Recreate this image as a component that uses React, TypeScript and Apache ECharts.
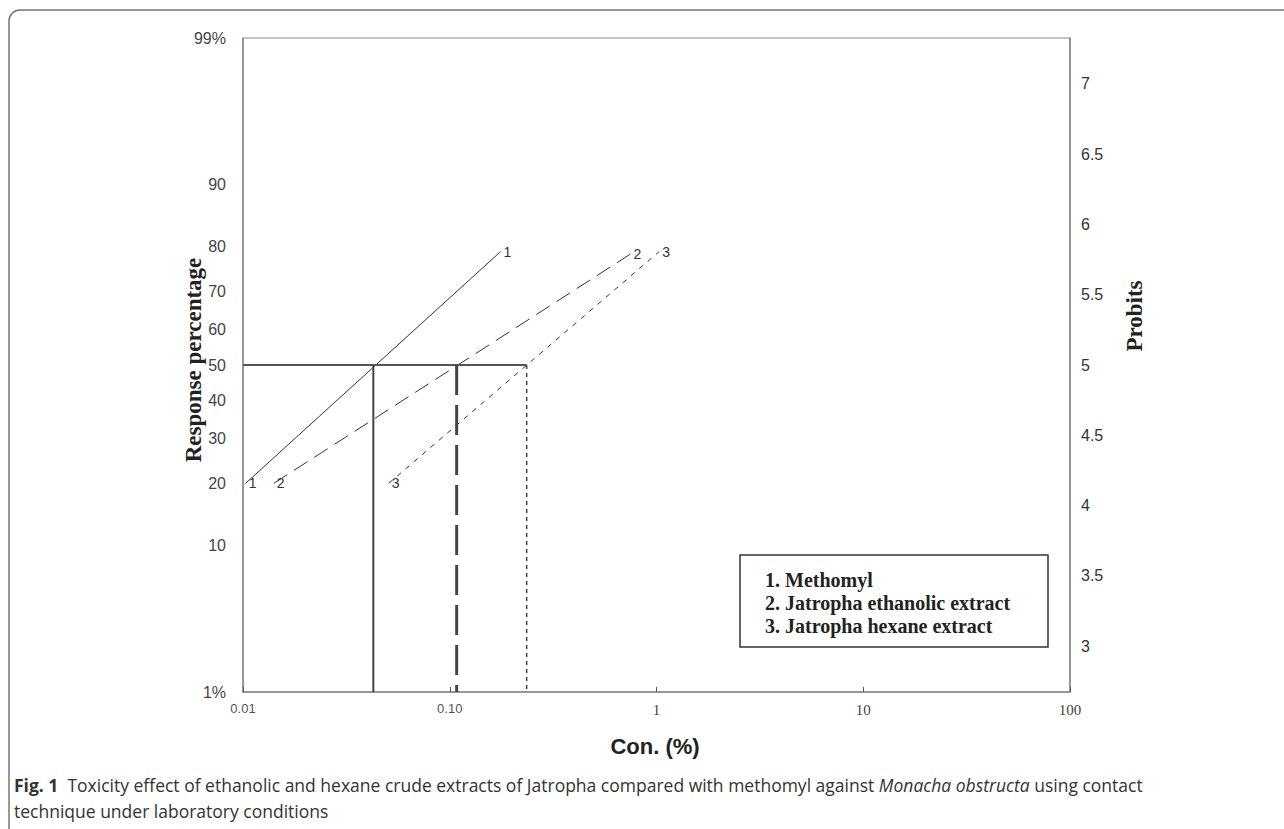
import React, { useEffect, useRef } from "react";
import * as echarts from "echarts";

// ---- data ----
const xTickLabels = ["0.01", "0.10", "1", "10", "100"];
const leftPercentTicks = [1, 10, 20, 30, 40, 50, 60, 70, 80, 90, 99];
const rightProbitTicks = [3, 3.5, 4, 4.5, 5, 5.5, 6, 6.5, 7];

const seriesNames = ["1", "2", "3"];
const legendLines = ["1. Methomyl", "2. Jatropha ethanolic extract", "3. Jatropha hexane extract"];
// [concentration %, response %]
const methomyl = [[0.0103, 20], [0.176, 79]];
const ethanolic = [[0.0141, 20], [0.748, 78.5]];
const hexane = [[0.0507, 20], [1.03, 79]];
// LC50 values (concentration at 50% response)
const lc50 = [0.0427, 0.108, 0.2355];

// inverse standard normal (Acklam)
function invNorm(p: number): number {
  const a = [-39.69683028665376, 220.9460984245205, -275.9285104469687, 138.357751867269, -30.66479806614716, 2.506628277459239];
  const b = [-54.47609879822406, 161.5858368580409, -155.6989798598866, 66.80131188771972, -13.28068155288572];
  const c = [-0.007784894002430293, -0.3223964580411365, -2.400758277161838, -2.549732539343734, 4.374664141464968, 2.938163982698783];
  const d = [0.007784695709041462, 0.3224671290700398, 2.445134137142996, 3.754408661907416];
  const pl = 0.02425;
  let q: number, r: number;
  if (p < pl) {
    q = Math.sqrt(-2 * Math.log(p));
    return (((((c[0] * q + c[1]) * q + c[2]) * q + c[3]) * q + c[4]) * q + c[5]) / ((((d[0] * q + d[1]) * q + d[2]) * q + d[3]) * q + 1);
  } else if (p <= 1 - pl) {
    q = p - 0.5;
    r = q * q;
    return (((((a[0] * r + a[1]) * r + a[2]) * r + a[3]) * r + a[4]) * r + a[5]) * q / (((((b[0] * r + b[1]) * r + b[2]) * r + b[3]) * r + b[4]) * r + 1);
  }
  q = Math.sqrt(-2 * Math.log(1 - p));
  return -(((((c[0] * q + c[1]) * q + c[2]) * q + c[3]) * q + c[4]) * q + c[5]) / ((((d[0] * q + d[1]) * q + d[2]) * q + d[3]) * q + 1);
}
const probit = (pct: number) => 5 + invNorm(pct / 100);

export default function App() {
  const ref = useRef<HTMLDivElement>(null);
  useEffect(() => {
    if (!ref.current) return;
    const chart = echarts.init(ref.current, null, { renderer: "svg" });
    const yMin = probit(1);
    const yMax = probit(99);
    const leftProbitVals = leftPercentTicks.map(probit);
    const pctLabel = (v: number) => {
      let best = 0;
      let bd = Infinity;
      leftPercentTicks.forEach((p, i) => {
        const dd = Math.abs(leftProbitVals[i] - v);
        if (dd < bd) { bd = dd; best = p; }
      });
      if (best === 1 || best === 99) return best + "%";
      return String(best);
    };
    const xLabel = (v: number) => {
      const i = Math.round(Math.log10(v)) + 2;
      const t = xTickLabels[i] ?? String(v);
      return i < 2 ? "{s|" + t + "}" : "{t|" + t + "}";
    };
    const toPts = (arr: number[][], name: string) =>
      arr.map((d) => ({
        value: [d[0], probit(d[1])],
        label: { show: true, position: "right", distance: 3, formatter: name },
      }));
    const lineLabel = {
      color: "#333",
      fontFamily: "Liberation Sans",
      fontSize: 14,
    };
    const mainSeries = [methomyl, ethanolic, hexane].map((arr, i) => ({
      type: "line",
      name: seriesNames[i],
      yAxisIndex: 0,
      data: toPts(arr, seriesNames[i]),
      symbol: "circle",
      symbolSize: 0,
      showSymbol: true,
      label: lineLabel,
      lineStyle: {
        color: "#333",
        width: 1,
        type: i === 0 ? "solid" : i === 1 ? [16, 8] : [5, 6],
      },
      silent: true,
    }));
    const p50 = probit(50);
    const lcSeries = [
      {
        type: "line",
        data: [[0.01, p50], [lc50[2], p50]],
        symbol: "none",
        lineStyle: { color: "#555", width: 2, type: "solid" },
      },
      ...lc50.map((x, i) => ({
        type: "line",
        data: [[x, p50], [x, yMin]],
        symbol: "none",
        lineStyle: {
          color: "#444",
          width: i === 1 ? 3 : i === 0 ? 2 : 1.5,
          type: i === 0 ? "solid" : i === 1 ? [30, 10] : [4, 4],
        },
      })),
    ];
    chart.setOption({
      animation: false,
      backgroundColor: "#fff",
      grid: {
        left: 243,
        top: 38,
        right: 214,
        bottom: 137,
        show: true,
        borderColor: "#888",
        borderWidth: 1,
      },
      xAxis: {
        type: "log",
        logBase: 10,
        min: 0.01,
        max: 100,
        axisLine: { show: true, lineStyle: { color: "#888", width: 1.5 } },
        axisTick: { show: true, inside: true, length: 5, lineStyle: { color: "#555" } },
        splitLine: { show: false },
        minorTick: { show: false },
        axisLabel: {
          margin: 10,
          formatter: xLabel,
          rich: {
            s: { fontFamily: "Liberation Sans", fontSize: 13, color: "#555" },
            t: { fontFamily: "Liberation Serif", fontSize: 15, color: "#444" },
          },
        },
      },
      yAxis: [
        {
          type: "value",
          position: "left",
          min: yMin,
          max: yMax,
          axisLine: { show: true, lineStyle: { color: "#888", width: 1.5 } },
          axisTick: { show: false },
          splitLine: { show: false },
          axisLabel: {
            customValues: leftProbitVals,
            formatter: pctLabel,
            margin: 17,
            fontFamily: "Liberation Sans",
            fontSize: 16,
            color: "#444",
          },
        },
        {
          type: "value",
          position: "right",
          min: yMin,
          max: yMax,
          axisLine: { show: true, lineStyle: { color: "#888", width: 1.5 } },
          axisTick: { show: false },
          splitLine: { show: false },
          axisLabel: {
            customValues: rightProbitTicks,
            formatter: (v: number) => String(v),
            margin: 11,
            fontFamily: "Liberation Sans",
            fontSize: 16,
            color: "#333",
          },
        },
      ],
      series: [...mainSeries, ...lcSeries],
      graphic: [
        {
          type: "rect",
          shape: { x: 9, y: 10, width: 1320, height: 840, r: 11 },
          style: { fill: "none", stroke: "#777", lineWidth: 1.5 },
          silent: true,
        },
        {
          type: "text",
          x: 193,
          y: 360,
          rotation: Math.PI / 2,
          style: {
            text: "Response percentage",
            font: "bold 23px 'Liberation Serif'",
            fill: "#222",
            align: "center",
            verticalAlign: "middle",
          },
        },
        {
          type: "text",
          x: 1134,
          y: 316,
          rotation: Math.PI / 2,
          style: {
            text: "Probits",
            font: "bold 23px 'Liberation Serif'",
            fill: "#222",
            align: "center",
            verticalAlign: "middle",
          },
        },
        {
          type: "text",
          x: 655,
          y: 746,
          style: {
            text: "Con. (%)",
            font: "bold 22px 'Liberation Sans'",
            fill: "#222",
            align: "center",
            verticalAlign: "middle",
          },
        },
        {
          type: "rect",
          shape: { x: 740, y: 555, width: 308, height: 92 },
          style: { fill: "#fff", stroke: "#333", lineWidth: 1.5 },
          z: 10,
        },
        ...legendLines.map((t, i) => ({
          type: "text",
          x: 765,
          y: 580 + i * 23,
          z: 11,
          style: {
            text: t,
            font: "bold 20px 'Liberation Serif'",
            fill: "#222",
            verticalAlign: "middle",
          },
        })),
        {
          type: "text",
          x: 14,
          y: 785,
          style: {
            text: "{b|Fig. 1}  Toxicity effect of ethanolic and hexane crude extracts of Jatropha compared with methomyl against {i|Monacha obstructa} using contact",
            font: "17.5px 'Open Sans'",
            fill: "#333",
            verticalAlign: "middle",
            rich: {
              b: { font: "bold 17.5px 'Open Sans'", fill: "#333" },
              i: { font: "italic 17.5px 'Open Sans'", fill: "#333" },
            },
          },
        },
        {
          type: "text",
          x: 14,
          y: 811,
          style: {
            text: "technique under laboratory conditions",
            font: "17.5px 'Open Sans'",
            fill: "#333",
            verticalAlign: "middle",
          },
        },
      ],
    });
    return () => chart.dispose();
  }, []);
  return (
    <div
      ref={ref}
      style={{ position: "absolute", left: 0, top: 0, width: 1284, height: 829 }}
    />
  );
}
